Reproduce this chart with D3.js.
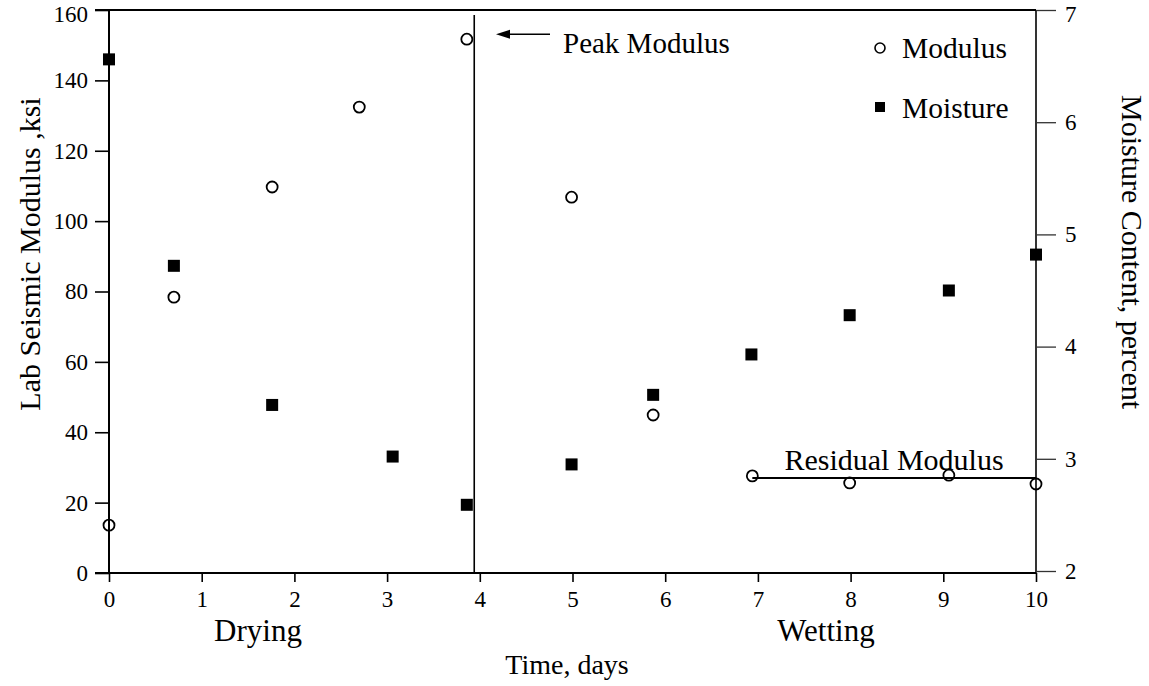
<!DOCTYPE html>
<html>
<head>
<meta charset="utf-8">
<script src="https://cdn.jsdelivr.net/npm/d3@7"></script>
<style>
  html, body { margin: 0; padding: 0; background: #fff; }
  svg { display: block; }
  text { font-family: "Liberation Serif", "Times New Roman", serif; fill: #000; }
</style>
</head>
<body>
<svg id="chart" width="1149" height="686"></svg>
<script>
// ---- data ----
const dayTicks = [0, 1, 2, 3, 4, 5, 6, 7, 8, 9, 10];
const modulusTicks = [0, 20, 40, 60, 80, 100, 120, 140, 160];
const moistureTicks = [2, 3, 4, 5, 6, 7];

const modulusDays = [0, 0.70, 1.76, 2.70, 3.86, 4.99, 5.87, 6.94, 7.99, 9.06, 10.0];
const modulusKsi  = [13.6, 78.4, 109.7, 132.4, 151.7, 106.8, 44.9, 27.6, 25.6, 27.8, 25.3];

const moistureDays = [0, 0.70, 1.76, 3.06, 3.86, 4.99, 5.87, 6.93, 7.99, 9.06, 10.0];
const moisturePct  = [6.56, 4.72, 3.48, 3.02, 2.59, 2.95, 3.57, 3.93, 4.28, 4.50, 4.82];

const peakDay = 3.94;
const residualStart = 6.94, residualEnd = 10, residualLevel = 27;

// ---- layout ----
const svg = d3.select("#chart");
const L = 109, R = 1036, T = 10, B = 573;

const x = d3.scaleLinear().domain([0, 10]).range([L, R]);
const yL = d3.scaleLinear().domain([0, 160]).range([B, T]);
const yR = d3.scaleLinear().domain([2, 7]).range([B - 2, T]);

const tickFont = "23px";

// bottom axis
const gx = svg.append("g").attr("transform", `translate(0,${B})`)
  .call(d3.axisBottom(x).tickValues(dayTicks).tickSize(9).tickPadding(9).tickFormat(d3.format("d")));
// left axis
const gl = svg.append("g").attr("transform", `translate(${L},0)`)
  .call(d3.axisLeft(yL).tickValues(modulusTicks).tickSize(14).tickPadding(7));
// right axis
const gr = svg.append("g").attr("transform", `translate(${R},0)`)
  .call(d3.axisRight(yR).tickValues(moistureTicks).tickSize(20).tickPadding(9).tickFormat(d3.format("d")));

[gx, gl, gr].forEach(g => {
  g.select(".domain").attr("stroke", "#000").attr("stroke-width", 2);
  g.selectAll(".tick line").attr("stroke", "#000").attr("stroke-width", 1.6);
  g.selectAll(".tick text").style("font-family", "Liberation Serif, serif").style("font-size", tickFont).attr("fill", "#000");
});
// keep the top-most labels inside the picture (they sit right at the top border)
gl.selectAll(".tick text").filter(d => d === 160).attr("transform", "translate(0,4)");
gr.selectAll(".tick text").filter(d => d === 7).attr("transform", "translate(0,4)");

gr.selectAll(".tick line").attr("stroke", "#333").attr("stroke-width", 1.3);
gl.select(".domain").attr("d", `M0,${B}V${T}`);
gr.select(".domain").attr("d", `M0,${B}V${T}`).attr("stroke-width", 1.6);
gx.select(".domain").attr("d", `M${L - 14},0H${R}`);

// top border
svg.append("line").attr("x1", L - 14).attr("x2", R).attr("y1", T).attr("y2", T)
  .attr("stroke", "#000").attr("stroke-width", 2);

// peak vertical line
svg.append("line").attr("x1", x(peakDay)).attr("x2", x(peakDay))
  .attr("y1", T + 5).attr("y2", B).attr("stroke", "#000").attr("stroke-width", 1.6);

// residual line
svg.append("line").attr("x1", x(residualStart)).attr("x2", x(residualEnd))
  .attr("y1", yL(residualLevel)).attr("y2", yL(residualLevel))
  .attr("stroke", "#000").attr("stroke-width", 2.2);

// moisture squares
svg.append("g").selectAll("rect").data(moistureDays.map((d, i) => [d, moisturePct[i]]))
  .join("rect")
  .attr("x", d => x(d[0]) - 6).attr("y", d => yR(d[1]) - 6)
  .attr("width", 12).attr("height", 12).attr("fill", "#000");

// modulus circles
svg.append("g").selectAll("circle").data(modulusDays.map((d, i) => [d, modulusKsi[i]]))
  .join("circle")
  .attr("cx", d => x(d[0])).attr("cy", d => yL(d[1])).attr("r", 5.5)
  .attr("fill", "none").attr("stroke", "#000").attr("stroke-width", 1.8);

// arrow for peak
const peakY = yL(modulusKsi[4]) - 5;
svg.append("line").attr("x1", 550).attr("x2", 500).attr("y1", peakY).attr("y2", peakY)
  .attr("stroke", "#000").attr("stroke-width", 1.6);
svg.append("path").attr("d", `M496,${peakY}L510,${peakY - 4.5}L510,${peakY + 4.5}Z`).attr("fill", "#000");
svg.append("text").attr("x", 563).attr("y", peakY + 19).style("font-size", "29px").text("Peak Modulus");

// residual label
svg.append("text").attr("x", 894).attr("y", yL(residualLevel) - 8).attr("text-anchor", "middle")
  .style("font-size", "30px").text("Residual Modulus");

// legend
svg.append("circle").attr("cx", 880).attr("cy", 48).attr("r", 5).attr("fill", "none")
  .attr("stroke", "#000").attr("stroke-width", 1.6);
svg.append("text").attr("x", 902).attr("y", 58).style("font-size", "29.5px").text("Modulus");
svg.append("rect").attr("x", 875).attr("y", 102).attr("width", 10).attr("height", 10).attr("fill", "#000");
svg.append("text").attr("x", 902).attr("y", 118).style("font-size", "29.5px").text("Moisture");

// axis titles
svg.append("text").attr("transform", `translate(40,254) rotate(-90)`).attr("text-anchor", "middle")
  .style("font-size", "30px").text("Lab Seismic Modulus ,ksi");
svg.append("text").attr("transform", `translate(1122,252) rotate(90)`).attr("text-anchor", "middle")
  .style("font-size", "30px").text("Moisture Content, percent");
svg.append("text").attr("x", 567).attr("y", 674).attr("text-anchor", "middle")
  .style("font-size", "28px").text("Time, days");
svg.append("text").attr("x", 258).attr("y", 641).attr("text-anchor", "middle")
  .style("font-size", "31px").text("Drying");
svg.append("text").attr("x", 826).attr("y", 641).attr("text-anchor", "middle")
  .style("font-size", "31px").text("Wetting");
</script>
</body>
</html>
